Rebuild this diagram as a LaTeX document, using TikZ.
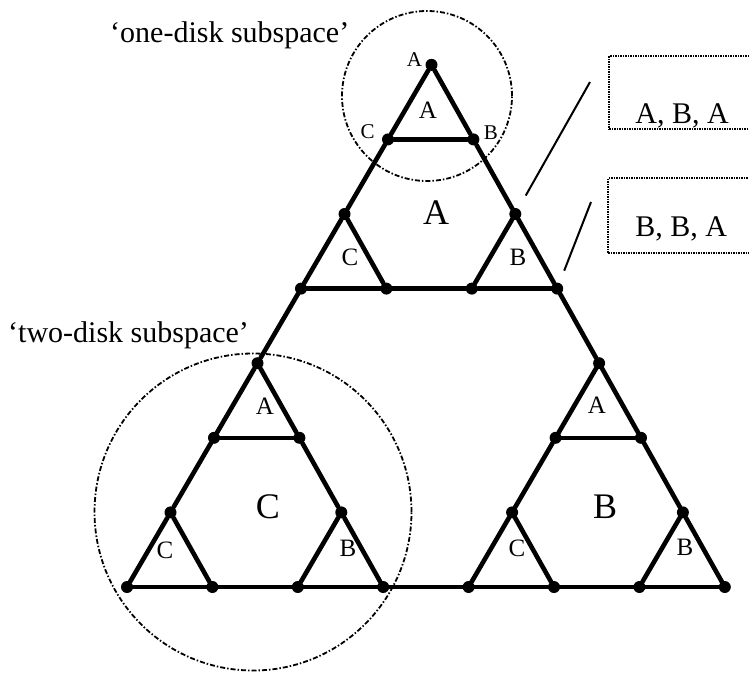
\documentclass[tikz,border=0pt]{standalone}
\usepackage{fontspec}
\setmainfont{Liberation Serif}
\usetikzlibrary{positioning}
\tikzset{
  vtx/.style   ={circle,fill=black,inner sep=0pt,minimum size=12pt},
  edg/.style   ={draw=black,line width=4.6pt,line cap=round},
  hood/.style  ={circle,draw=black,line width=1.8pt,inner sep=0pt,
                 dash pattern=on 5pt off 2pt on 1.5pt off 2pt},
  tagbox/.style={draw=black,line width=2.2pt,dash pattern=on 1.5pt off 1pt,
                 anchor=north west,minimum width=146pt,inner sep=0pt,
                 font=\fontsize{30}{34}\selectfont},
  lead/.style  ={draw=black,line width=2pt},
  sml/.style   ={font=\fontsize{25}{28}\selectfont,inner sep=0pt},
  vlb/.style   ={font=\fontsize{21}{24}\selectfont,inner sep=0pt},
  big/.style   ={font=\fontsize{36}{40}\selectfont,inner sep=0pt},
  sublbl/.style={font=\fontsize{30}{34}\selectfont,inner sep=0pt,anchor=base west},
}

\begin{document}
\begin{tikzpicture}[x=1pt,y=-1pt]
\useasboundingbox (0,0) rectangle (749,672);

% lattice of the 27 states, one small triangle per (a,b)
\begin{scope}[shift={(127,587)},x={(85.4pt,0pt)},y={(43.5pt,74.6pt)}]
\foreach \a/\b in {0/0,2/0,0/2,4/0,6/0,4/2,0/4,2/4,0/6}{
  \pgfmathtruncatemacro\ai{\a+1}
  \pgfmathtruncatemacro\bi{\b+1}
  \node[vtx] (v\a\b)  at (\a,\b)  {};
  \node[vtx] (v\ai\b) at (\ai,\b) {};
  \node[vtx] (v\a\bi) at (\a,\bi) {};
  \draw[edg] (v\a\b) -- (v\ai\b);
  \draw[edg] (v\ai\b) -- (v\a\bi);
  \draw[edg] (v\a\bi) -- (v\a\b);
}
\end{scope}

% bridges between the small triangles and between the big ones
\foreach \p/\q in {v10/v20,v01/v02,v21/v12, v50/v60,v41/v42,v61/v52,
                   v14/v24,v05/v06,v25/v16, v30/v40,v03/v04,v43/v34}
  \draw[edg] (\p) -- (\q);

% subspaces
\node[hood,minimum size=170pt] (one) at (427,96)  {};
\node[hood,minimum size=317pt] (two) at (253,512) {};
\node[sublbl] (onelbl) at (110,42)  {‘one-disk subspace’};
\node[sublbl] (twolbl) at (8,342)   {‘two-disk subspace’};

% peg labels of the top triangle
\node[vlb,left=3pt of v07,yshift=5pt]  (pa) {A};
\node[vlb,left=7pt of v06,yshift=8pt]  (pc) {C};
\node[vlb,right=4pt of v16,yshift=7pt] (pb) {B};

% small triangle labels
\node[sml] (sa1) at (428,110) {A};
\node[sml] (sc1) at (350,257) {C};
\node[sml] (sb1) at (518,257) {B};
\node[sml] (sa2) at (265,406) {A};
\node[sml] (sc2) at (165,550) {C};
\node[sml] (sb2) at (348,548) {B};
\node[sml] (sa3) at (597,405) {A};
\node[sml] (sc3) at (517,548) {C};
\node[sml] (sb3) at (685,547) {B};

% big triangle labels
\node[big] (ba) at (436,213) {A};
\node[big] (bc) at (268,507) {C};
\node[big] (bb) at (605,507) {B};

% state tags
\node[tagbox,text height=67pt,text depth=6pt]  (tab1) at (608,55)  {A, B, A};
\node[tagbox,text height=58pt,text depth=17pt] (tab2) at (607,177) {B, B, A};
\coordinate (lt1) at (590,82);
\coordinate (lt2) at (591,202);
\draw[lead,shorten <=15pt] (v25) -- (lt1);
\draw[lead,shorten <=13pt] (v34) -- (lt2);
\end{tikzpicture}
\end{document}
